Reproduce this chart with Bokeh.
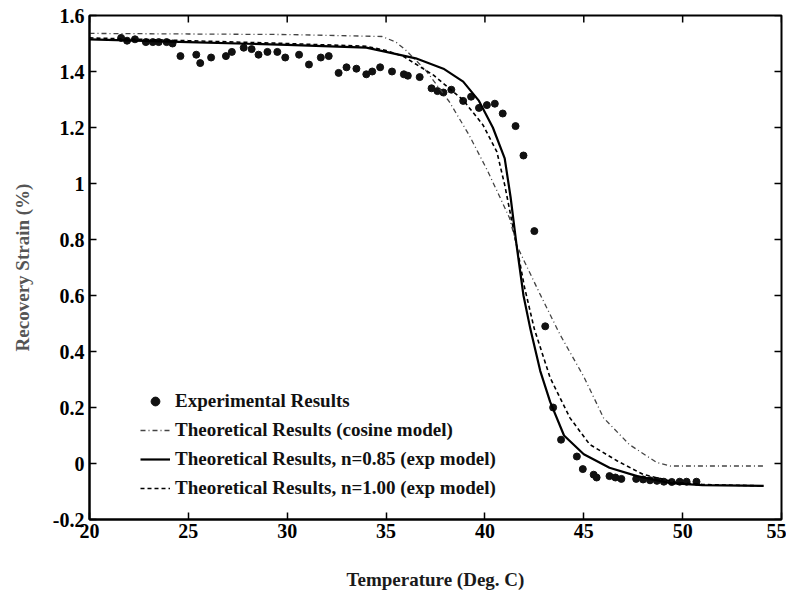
import math
from bokeh.plotting import figure
from bokeh.models import FixedTicker, Range1d, Legend, LegendItem
from bokeh.embed import file_html
from bokeh.resources import INLINE

# ---- data ----
exp_temp = [21.6, 21.9, 22.3, 22.85, 23.2, 23.5, 23.9, 24.2, 24.6, 25.4, 25.6, 26.15, 26.9, 27.2, 27.8, 28.2,
            28.55, 29.0, 29.5, 29.9, 30.6, 31.1, 31.7, 32.1, 32.6, 33.0, 33.5, 34.0, 34.3, 34.7, 35.3, 35.9,
            36.1, 36.7, 37.3, 37.6, 37.9, 38.3, 38.9, 39.3, 39.7, 40.1, 40.5, 40.9, 41.55, 41.95, 42.5, 43.05,
            43.45, 43.85, 44.65, 44.95, 45.5, 45.65, 46.3, 46.6, 46.9, 47.65, 48.0, 48.35, 48.7, 49.05, 49.45,
            49.85, 50.2, 50.7]
exp_strain = [1.52, 1.51, 1.515, 1.505, 1.505, 1.505, 1.505, 1.50, 1.455, 1.46, 1.43, 1.45, 1.455, 1.47, 1.485,
              1.48, 1.46, 1.47, 1.47, 1.45, 1.46, 1.425, 1.45, 1.455, 1.395, 1.415, 1.41, 1.39, 1.40, 1.415,
              1.40, 1.39, 1.385, 1.38, 1.34, 1.33, 1.325, 1.335, 1.295, 1.31, 1.27, 1.28, 1.285, 1.25, 1.205,
              1.10, 0.83, 0.49, 0.20, 0.085, 0.025, -0.02, -0.04, -0.05, -0.045, -0.05, -0.055, -0.055, -0.057,
              -0.06, -0.062, -0.065, -0.066, -0.065, -0.065, -0.065]

cos_temp = [20, 25, 30, 34.8, 35.5, 36.0, 37.0, 38.2, 39.2, 40.1, 40.7, 41.25, 41.6, 42.8, 43.8, 45.0, 46.0,
            47.3, 48.7, 49.4, 54.1]
cos_strain = [1.536, 1.534, 1.532, 1.525, 1.505, 1.476, 1.405, 1.292, 1.173, 1.05, 0.96, 0.876, 0.78, 0.603,
              0.46, 0.31, 0.163, 0.068, 0.003, -0.009, -0.009]

n085_temp = [20, 25, 30, 34, 35, 36.5, 37.9, 38.9, 39.7, 40.4, 41.0, 41.3, 41.6, 41.95, 42.3, 42.8, 43.3, 44.0,
             45.0, 46.3, 47.7, 49.4, 51, 54.1]
n085_strain = [1.515, 1.505, 1.495, 1.485, 1.47, 1.447, 1.41, 1.364, 1.295, 1.2, 1.09, 0.95, 0.78, 0.60, 0.48,
               0.33, 0.22, 0.10, 0.033, -0.015, -0.045, -0.07, -0.077, -0.08]

n100_temp = [20, 25, 30, 34, 35, 35.9, 37.4, 38.9, 39.9, 40.6, 41.0, 41.6, 42.0, 42.5, 43.3, 44.3, 45.3, 46.7,
             48.0, 49.7, 51, 54.1]
n100_strain = [1.52, 1.51, 1.50, 1.49, 1.475, 1.453, 1.387, 1.298, 1.209, 1.114, 0.995, 0.78, 0.63, 0.48,
               0.306, 0.163, 0.068, 0.009, -0.039, -0.068, -0.075, -0.08]

x_min, x_max = 20, 55
y_min, y_max = -0.2, 1.6
x_ticks = [20, 25, 30, 35, 40, 45, 50, 55]
y_ticks = [-0.2, 0, 0.2, 0.4, 0.6, 0.8, 1, 1.2, 1.4, 1.6]
y_tick_labels = ["-0.2", "0", "0.2", "0.4", "0.6", "0.8", "1", "1.2", "1.4", "1.6"]

legend_labels = ["Experimental Results", "Theoretical Results (cosine model)",
                 "Theoretical Results, n=0.85 (exp model)", "Theoretical Results, n=1.00 (exp model)"]

FONT = "Liberation Serif"

p = figure(width=786, height=592, output_backend="svg", toolbar_location=None,
           x_range=Range1d(x_min, x_max), y_range=Range1d(y_min, y_max),
           min_border_left=89, min_border_right=5, min_border_top=15, min_border_bottom=70,
           background_fill_color="white", border_fill_color="white")
p.grid.visible = False
p.outline_line_color = "black"
p.outline_line_width = 2

r_exp = p.scatter(exp_temp, exp_strain, size=7, color="#111111")
r_cos = p.line(cos_temp, cos_strain, line_color="#444444", line_width=1.3, line_dash="5 3 1 3")
r_085 = p.line(n085_temp, n085_strain, line_color="black", line_width=2.2)
r_100 = p.line(n100_temp, n100_strain, line_color="black", line_width=1.6, line_dash="4 3")

# inward mirror ticks on top and right edges
p.ray(x=x_ticks, y=[y_max] * len(x_ticks), length=7, length_units="screen",
      angle=-math.pi / 2, line_color="black", line_width=1.5)
p.ray(x=[x_max] * len(y_ticks), y=y_ticks, length=7, length_units="screen",
      angle=math.pi, line_color="black", line_width=1.5)

xa = p.xaxis[0]
ya = p.yaxis[0]
xa.ticker = FixedTicker(ticks=x_ticks)
ya.ticker = FixedTicker(ticks=y_ticks)
ya.major_label_overrides = {t: s for t, s in zip(y_ticks, y_tick_labels)}
for ax in (xa, ya):
    ax.axis_line_width = 2
    ax.axis_line_color = "black"
    ax.major_tick_in = 7
    ax.major_tick_out = 0
    ax.major_tick_line_width = 1.5
    ax.minor_tick_line_color = None
    ax.major_label_text_font = FONT
    ax.major_label_text_font_size = "20px"
    ax.major_label_text_font_style = "bold"
    ax.major_label_text_color = "black"
    ax.axis_label_text_font = FONT
    ax.axis_label_text_font_style = "bold"
    ax.axis_label_text_font_size = "19px"
xa.major_label_standoff = 4
ya.major_label_standoff = 5
xa.axis_label = "Temperature (Deg. C)"
ya.axis_label = "Recovery Strain (%)"
xa.axis_label_text_color = "#1a1a1a"
ya.axis_label_text_color = "#555555"
xa.axis_label_standoff = 28
ya.axis_label_standoff = 17

legend = Legend(items=[LegendItem(label=legend_labels[0], renderers=[r_exp]),
                       LegendItem(label=legend_labels[1], renderers=[r_cos]),
                       LegendItem(label=legend_labels[2], renderers=[r_085]),
                       LegendItem(label=legend_labels[3], renderers=[r_100])],
                location=(51, 20), border_line_color=None, background_fill_alpha=0,
                label_text_font=FONT, label_text_font_size="19px", label_text_font_style="bold",
                label_text_color="#111111",
                glyph_width=30, glyph_height=22, label_height=22, spacing=7, padding=0, margin=0,
                label_standoff=5)
p.add_layout(legend, "center")

open("out.html", "w").write(file_html(p, INLINE))
